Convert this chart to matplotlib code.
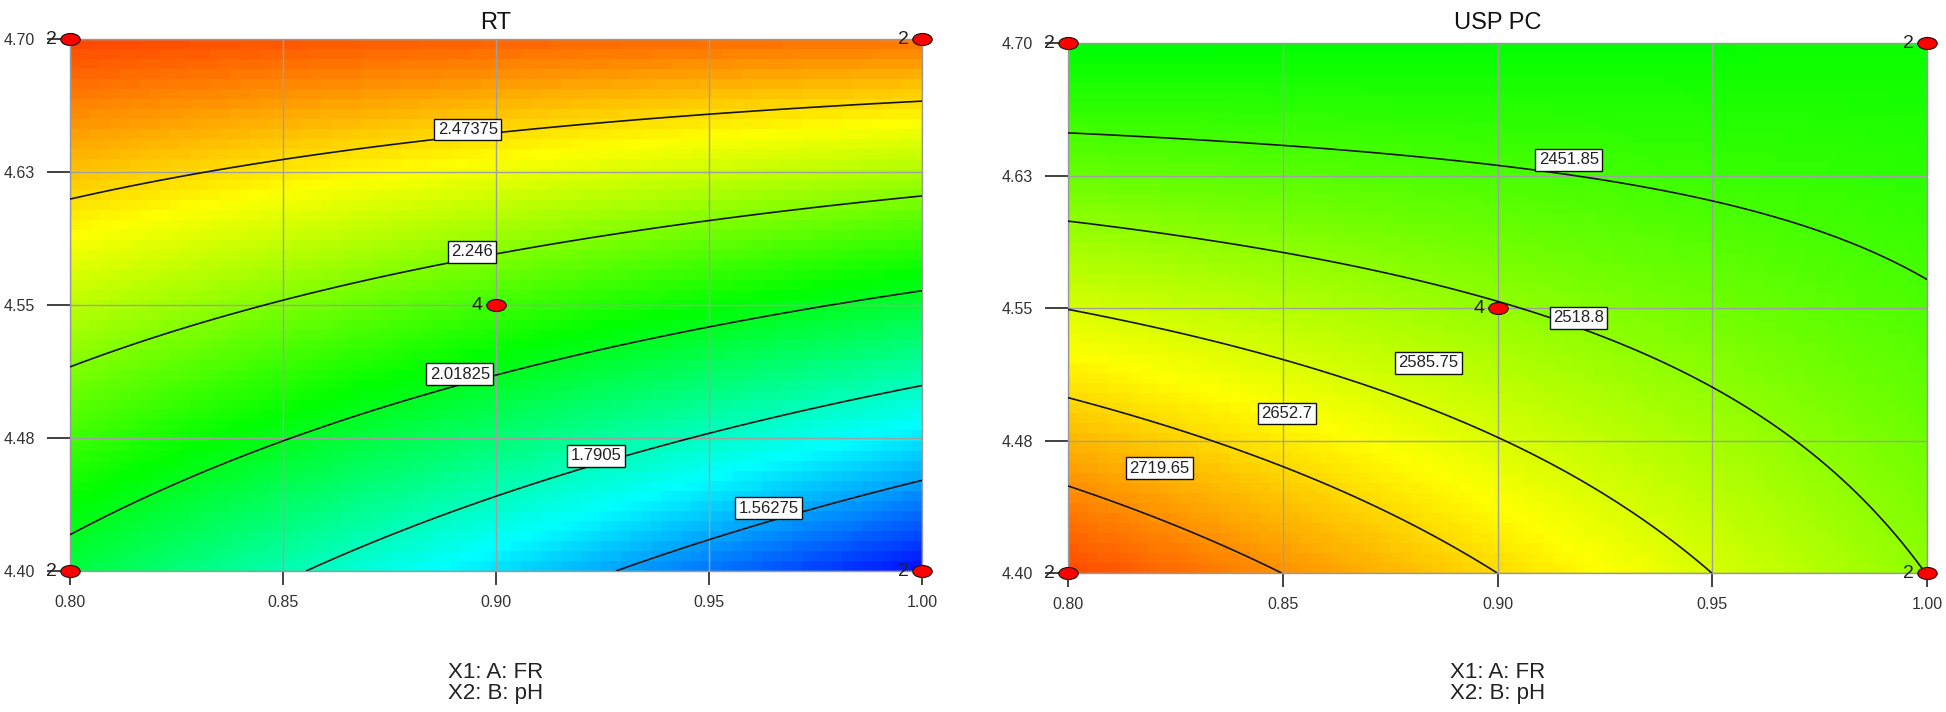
import numpy as np
import matplotlib
matplotlib.use('Agg')
import matplotlib.pyplot as plt
from matplotlib.colors import LinearSegmentedColormap
from matplotlib.path import Path

plt.rcParams['font.family'] = ['Liberation Sans', 'DejaVu Sans']

# ---------------- data ----------------
fr_ticks = [0.80, 0.85, 0.90, 0.95, 1.00]
fr_tick_labels = ['0.80', '0.85', '0.90', '0.95', '1.00']
ph_ticks = [4.40, 4.475, 4.55, 4.625, 4.70]
ph_tick_labels = ['4.40', '4.48', '4.55', '4.63', '4.70']

# fitted quadratic models in coded units: [b0, A, B, AB, A^2, B^2]
rt_coef = [2.150, -0.173, 0.500, 0.139, 0.007, 0.0]
usp_coef = [2522.1, -63.2, -130.5, 70.5, -0.6, 0.0]

rt_levels = [1.56275, 1.7905, 2.01825, 2.246, 2.47375]
rt_level_labels = ['1.56275', '1.7905', '2.01825', '2.246', '2.47375']
usp_levels = [2451.85, 2518.8, 2585.75, 2652.7, 2719.65]
usp_level_labels = ['2451.85', '2518.8', '2585.75', '2652.7', '2719.65']

rt_color_range = [1.33, 2.79]
usp_color_range = [1930.0, 2850.0]

design_fr = [0.80, 1.00, 0.80, 1.00, 0.90]
design_ph = [4.70, 4.70, 4.40, 4.40, 4.55]
design_reps = ['2', '2', '2', '2', '4']

titles = ['RT', 'USP PC']
factor_text = 'X1: A: FR\nX2: B: pH'


def surface(coef, fr, ph):
    a = (fr - 0.9) / 0.1
    b = (ph - 4.55) / 0.15
    return (coef[0] + coef[1] * a + coef[2] * b + coef[3] * a * b
            + coef[4] * a ** 2 + coef[5] * b ** 2)


cmap = LinearSegmentedColormap.from_list(
    'de', ['#0000ff', '#00ffff', '#00ff00', '#ffff00', '#ff0000'])

W, H = 1946, 712
fig = plt.figure(figsize=(W / 100, H / 100), dpi=100)

ax_boxes = [(70, 39, 922, 571), (1068, 43, 1927, 573)]
coefs = [rt_coef, usp_coef]
levels_all = [rt_levels, usp_levels]
labels_all = [rt_level_labels, usp_level_labels]
ranges = [rt_color_range, usp_color_range]
label_pos = [
    [(0.964, 4.4355), (0.9235, 4.465), (0.8915, 4.511), (0.8944, 4.580), (0.8934, 4.649)],
    [(0.9166, 4.6338), (0.9189, 4.5445), (0.8839, 4.519), (0.851, 4.4902), (0.8212, 4.4593)],
]

ell = Path.unit_circle()
ell_marker = Path(ell.vertices * np.array([1.0, 0.62]), ell.codes)

for i in range(2):
    x0, y0, x1, y1 = ax_boxes[i]
    ax = fig.add_axes([x0 / W, 1 - y1 / H, (x1 - x0) / W, (y1 - y0) / H])
    coef = coefs[i]

    nx, ny = 85, 53
    xe = np.linspace(0.8, 1.0, nx + 1)
    ye = np.linspace(4.4, 4.7, ny + 1)
    xc = 0.5 * (xe[:-1] + xe[1:])
    yc = 0.5 * (ye[:-1] + ye[1:])
    XC, YC = np.meshgrid(xc, yc)
    Z = surface(coef, XC, YC)
    ax.pcolormesh(xe, ye, Z, cmap=cmap, vmin=ranges[i][0], vmax=ranges[i][1],
                  shading='flat', zorder=0)

    xf = np.linspace(0.8, 1.0, 300)
    yf = np.linspace(4.4, 4.7, 300)
    XF, YF = np.meshgrid(xf, yf)
    ZF = surface(coef, XF, YF)
    ax.contour(XF, YF, ZF, levels=levels_all[i], colors='#151515',
               linewidths=1.2, zorder=3)

    for (lx, ly), s in zip(label_pos[i], labels_all[i]):
        ax.text(lx, ly, s, ha='center', va='center', fontsize=12, color='#222222',
                zorder=6,
                bbox=dict(boxstyle='square,pad=0.2', fc='white', ec='#111111', lw=1.0))

    ax.set_xlim(0.8, 1.0)
    ax.set_ylim(4.4, 4.7)
    ax.set_xticks(fr_ticks)
    ax.set_xticklabels(fr_tick_labels)
    ax.set_yticks(ph_ticks)
    ax.set_yticklabels(ph_tick_labels)
    ax.grid(True, color='#a0a0a0', lw=1.0, zorder=2)
    ax.tick_params(axis='y', direction='out', length=16.5, width=1.3,
                   color='#333333', pad=8.5, labelsize=11.5, labelcolor='#333333')
    ax.tick_params(axis='x', direction='out', length=10, width=1.3,
                   color='#333333', pad=7, labelsize=11.5, labelcolor='#333333')
    for sp in ax.spines.values():
        sp.set_color('#999999')
        sp.set_linewidth(1.0)

    ax.plot(design_fr, design_ph, ls='none', marker=ell_marker, ms=14,
            mfc='#ff0000', mec='#111111', mew=0.8, clip_on=False, zorder=8)
    for fx, py, n in zip(design_fr, design_ph, design_reps):
        ax.annotate(n, xy=(fx, py), xytext=(-9.5, 0), textcoords='offset points',
                    ha='right', va='center', fontsize=14, color='#222222',
                    annotation_clip=False, zorder=9)

    cx = (x0 + x1) / 2 / W
    fig.text(cx, 1 - 23 / H, titles[i], ha='center', va='center', fontsize=17,
             color='#111111')
    fig.text(cx, 1 - 683 / H, factor_text, ha='center', va='center',
             fontsize=16, linespacing=0.95, color='#222222')

fig.savefig('out.png', dpi=100)
